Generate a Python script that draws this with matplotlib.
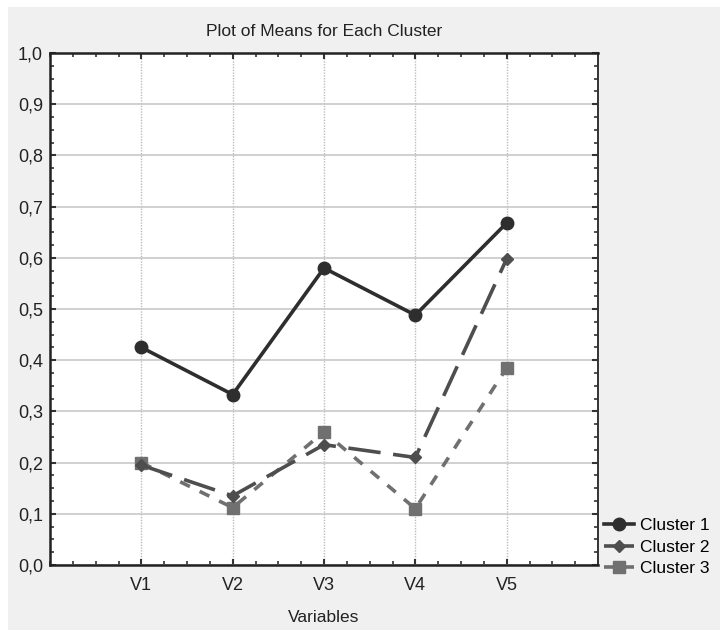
import matplotlib
matplotlib.use("Agg")
import matplotlib.pyplot as plt
from matplotlib.patches import Rectangle
from matplotlib.ticker import MultipleLocator

# dane
variables = ["V1", "V2", "V3", "V4", "V5"]
cluster1 = [0.425, 0.333, 0.580, 0.488, 0.668]
cluster2 = [0.195, 0.135, 0.235, 0.210, 0.598]
cluster3 = [0.200, 0.112, 0.260, 0.110, 0.385]
names = ["Cluster 1", "Cluster 2", "Cluster 3"]
yticks = [0.0, 0.1, 0.2, 0.3, 0.4, 0.5, 0.6, 0.7, 0.8, 0.9, 1.0]
ylabels = ["0,0", "0,1", "0,2", "0,3", "0,4", "0,5", "0,6", "0,7", "0,8", "0,9", "1,0"]

plt.rcParams['font.family'] = ['Liberation Sans Narrow', 'Liberation Sans', 'DejaVu Sans']

fig = plt.figure(figsize=(7.2, 6.3), dpi=100)
fig.patch.set_facecolor("white")
# szare tlo jak w Statistice
fig.patches.append(Rectangle((8/720, 0), 1 - 8/720, 1 - 7/630, transform=fig.transFigure,
                             facecolor="#f0f0f0", edgecolor="none", zorder=-10))

ax = fig.add_axes([50/720, 65/630, 548/720, 512/630])
ax.set_facecolor("white")

x = list(range(1, len(variables) + 1))
ax.plot(x, cluster1, color="#2e2e2e", lw=2.6, marker="o", ms=9, label=names[0], zorder=5)
ax.plot(x, cluster2, color="#4e4e4e", lw=2.6, marker="D", ms=6, dashes=(9, 3.5),
        label=names[1], zorder=4)
ax.plot(x, cluster3, color="#707070", lw=2.6, marker="s", ms=9, dashes=(3, 3),
        label=names[2], zorder=3)

ax.set_xlim(0, 6)
ax.set_ylim(0, 1)
ax.set_xticks(x)
ax.set_xticklabels(variables)
ax.set_yticks(yticks)
ax.set_yticklabels(ylabels)
ax.xaxis.set_minor_locator(MultipleLocator(0.25))
ax.yaxis.set_minor_locator(MultipleLocator(0.025))

ax.tick_params(which="both", direction="in", top=True, right=True, colors="#333333",
               labelcolor="#222222", labelsize=13)
ax.tick_params(which="major", length=4, width=1.5)
ax.tick_params(which="minor", length=3, width=1.2)
ax.tick_params(axis="x", which="major", pad=9)
ax.tick_params(axis="y", which="major", pad=5)

ax.yaxis.grid(True, color="#c8c8c8", lw=1.2, ls="-")
ax.xaxis.grid(True, color="#bcbcbc", lw=1.0, ls=(0, (1, 1)))
ax.set_axisbelow(True)

for side in ["left", "bottom", "top"]:
    ax.spines[side].set_linewidth(1.8)
    ax.spines[side].set_color("#222222")
ax.spines["right"].set_linewidth(1.4)
ax.spines["right"].set_color("#333333")

fig.text((50 + 598) / 2 / 720, 1 - 32 / 630, "Plot of Means for Each Cluster",
         ha="center", va="center", fontsize=12.5, color="#222222")
fig.text((50 + 598) / 2 / 720, 1 - 617 / 630, "Variables",
         ha="center", va="center", fontsize=12.5, color="#222222")

fig.legend(loc="center left", bbox_to_anchor=(604/720, 1 - 547/630), frameon=False,
           fontsize=12.5, handlelength=1.7, handletextpad=0.4, labelspacing=0.35,
           borderpad=0, borderaxespad=0)

fig.savefig("out.png", dpi=100, facecolor=fig.get_facecolor())
